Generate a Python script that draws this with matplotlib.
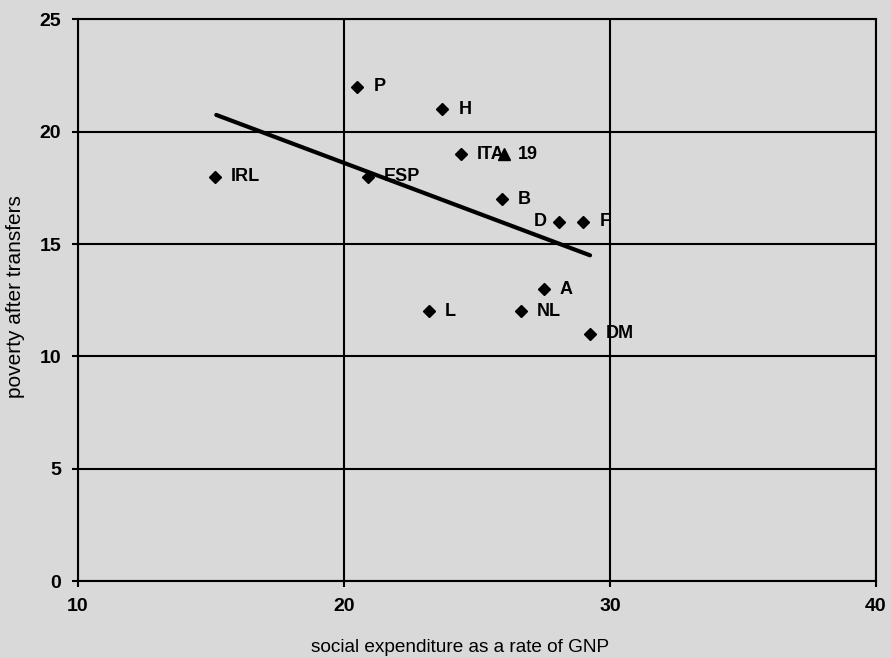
import matplotlib
matplotlib.use("Agg")
import matplotlib.pyplot as plt

plt.rcParams['font.family'] = ['Liberation Sans', 'DejaVu Sans']

# laender, sozialausgaben (% BSP) und armut nach transfers
laender = ['IRL', 'P', 'H', 'ITA', 'ESP', 'B', 'D', 'F', 'A', 'L', 'NL', 'DM']
ausgaben = [15.15, 20.5, 23.7, 24.4, 20.9, 25.95, 28.1, 29.0, 27.5, 23.2, 26.65, 29.25]
armut = [18, 22, 21, 19, 18, 17, 16, 16, 13, 12, 12, 11]

# durchschnitt (dreieck)
eu_x = [26.0]
eu_y = [19.0]
eu_name = '19'

# trendlinie, endpunkte aus der grafik
trend_x = [15.2, 29.25]
trend_y = [20.75, 14.5]

grau = '#d9d9d9'
fig = plt.figure(figsize=(8.91, 6.58), dpi=100, facecolor=grau)
ax = fig.add_axes((0.0875, 0.117, 0.8957, 0.8534), facecolor=grau)

ax.plot(trend_x, trend_y, color='black', lw=3, solid_capstyle='round', zorder=3)
ax.plot(ausgaben, armut, 'D', color='black', ms=6.3, zorder=4)
ax.plot(eu_x, eu_y, '^', color='black', ms=8, zorder=4)

for name, x, y in zip(laender, ausgaben, armut):
    if name == 'D':
        ax.annotate(name, (x, y), xytext=(-9.5, 0), textcoords='offset points',
                    ha='right', va='center', fontsize=13, fontweight='bold', zorder=5)
    else:
        ax.annotate(name, (x, y), xytext=(11.5, 0), textcoords='offset points',
                    ha='left', va='center', fontsize=13, fontweight='bold', zorder=5)
ax.annotate(eu_name, (eu_x[0], eu_y[0]), xytext=(10.5, 0), textcoords='offset points',
            ha='left', va='center', fontsize=13, fontweight='bold', zorder=5)

ax.set_xlim(10, 40)
ax.set_ylim(0, 25)
ax.set_xticks([10, 20, 30, 40])
ax.set_yticks([0, 5, 10, 15, 20, 25])
ax.grid(True, color='black', lw=1.5)
ax.set_axisbelow(True)
for s in ax.spines.values():
    s.set_color('black')
    s.set_linewidth(1.5)
ax.tick_params(length=4, width=1.5, pad=8, labelsize=14)
for lab in ax.get_xticklabels() + ax.get_yticklabels():
    lab.set_fontweight('bold')

ax.set_xlabel('social expenditure as a rate of GNP', fontsize=13.7)
ax.set_ylabel('poverty after transfers', fontsize=15)
ax.xaxis.set_label_coords(0.479, -0.103)
ax.yaxis.set_label_coords(-0.066, 0.506)

fig.savefig('out.png', dpi=100, facecolor=grau)
